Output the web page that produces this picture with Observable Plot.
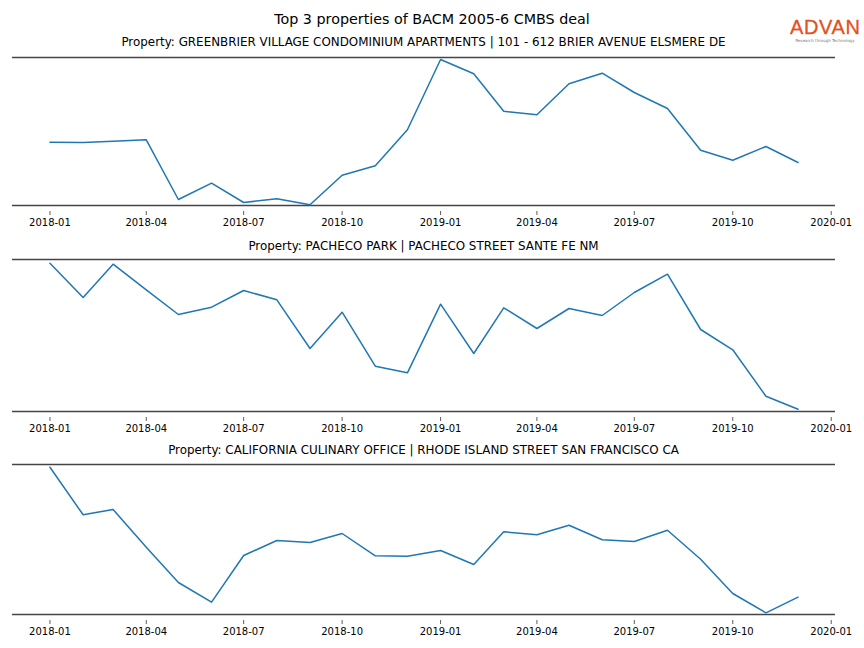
<!DOCTYPE html>
<html>
<head>
<meta charset="utf-8">
<script src="https://cdn.jsdelivr.net/npm/d3@7"></script>
<script src="https://cdn.jsdelivr.net/npm/@observablehq/plot@0.6"></script>
<style>
  html, body { margin: 0; padding: 0; background: #fff; }
  #wrap { position: relative; width: 864px; height: 648px; font-family: "DejaVu Sans", sans-serif; color: #000; overflow: hidden; }
  .t { position: absolute; left: 0; width: 864px; text-align: center; white-space: nowrap; line-height: 1.2; }
  .pt { position: absolute; left: 12px; width: 823px; text-align: center; white-space: nowrap; line-height: 1.2; }
  .panel { position: absolute; left: 0; }
  #logo { position: absolute; left: 790px; top: 17px; width: 70px; text-align: center; }
  #logo .big { font-family: "Liberation Sans", "DejaVu Sans", sans-serif; font-size: 20px; letter-spacing: 0.6px; color: #e2501f; line-height: 20px; -webkit-text-stroke: 0.3px #e2501f; }
  #logo .small { font-size: 4px; color: #777; line-height: 5px; margin-top: 1px; }
</style>
</head>
<body>
<div id="wrap"></div>
<script>
// Monthly dates, 2018-01 .. 2019-12
const months = ["2018-01","2018-02","2018-03","2018-04","2018-05","2018-06","2018-07","2018-08","2018-09","2018-10","2018-11","2018-12",
                "2019-01","2019-02","2019-03","2019-04","2019-05","2019-06","2019-07","2019-08","2019-09","2019-10","2019-11","2019-12"];

// Series values (relative index; no y axis shown)
const greenbrier = [63.3, 63, 64.3, 65.7, 6, 22.3, 3, 6.7, 0.7, 30.3, 39.7, 75.7,
                    146, 131.7, 94.3, 90.7, 121.7, 132.3, 113, 97, 55.3, 45.3, 59, 43];
const pacheco    = [148.3, 114, 147.3, 121.7, 97, 104.3, 121, 111.7, 63, 99.3, 45.3, 38.7,
                    107.3, 58, 103.7, 83, 103, 96, 119, 137.3, 82, 61.7, 15.3, 2.3];
const california = [147.3, 99.7, 105, 67.3, 32, 12.3, 59, 74, 72, 81, 58.7, 58.3,
                    64, 50, 82.7, 79.7, 89.3, 74.7, 73, 84.3, 55.3, 21, 1.7, 17.3];

const yDomains = [[0, 148], [0, 152], [0, 150]];

// Tick labels
const tickLabels = ["2018-01","2018-04","2018-07","2018-10","2019-01","2019-04","2019-07","2019-10","2020-01"];

const suptitle = "Top 3 properties of BACM 2005-6 CMBS deal";
const panelTitles = [
  "Property: GREENBRIER VILLAGE CONDOMINIUM APARTMENTS | 101 - 612 BRIER AVENUE ELSMERE DE",
  "Property: PACHECO PARK | PACHECO STREET SANTE FE NM",
  "Property: CALIFORNIA CULINARY OFFICE | RHODE ISLAND STREET SAN FRANCISCO CA"
];
const seriesList = [greenbrier, pacheco, california];

const parse = d3.utcParse("%Y-%m");
const ticks = tickLabels.map(parse);
const xDomain = [new Date(Date.UTC(2017, 10, 27)), new Date(Date.UTC(2020, 0, 5))];

const wrap = document.getElementById("wrap");

function addText(cls, text, top, size) {
  const d = document.createElement("div");
  d.className = cls;
  d.textContent = text;
  d.style.top = top + "px";
  d.style.fontSize = size + "px";
  wrap.appendChild(d);
}

addText("t", suptitle, 11, 14.3);

const layout = [
  {titleTop: 35, svgTop: 52, plotH: 148},
  {titleTop: 239, svgTop: 254, plotH: 152},
  {titleTop: 443, svgTop: 459, plotH: 150}
];

seriesList.forEach((vals, i) => {
  const L = layout[i];
  addText("pt", panelTitles[i], L.titleTop, 11.9);
  const data = months.map((m, k) => ({date: parse(m), value: vals[k]}));
  const marginTop = 5, inset = 6, marginBottom = 24;
  const height = marginTop + L.plotH + inset + marginBottom;
  const chart = Plot.plot({
    width: 864,
    height,
    marginTop,
    marginBottom,
    marginLeft: 12,
    marginRight: 29,
    style: {fontFamily: "DejaVu Sans, sans-serif", fontSize: "10px", color: "#000", background: "transparent"},
    x: {type: "utc", domain: xDomain},
    y: {domain: yDomains[i], insetBottom: inset, axis: null},
    marks: [
      Plot.ruleY(yDomains[i], {stroke: "#444", strokeWidth: 1.6}),
      Plot.lineY(data, {x: "date", y: "value", stroke: "#1f77b4", strokeWidth: 1.5}),
      Plot.axisX({ticks, tickFormat: d3.utcFormat("%Y-%m"), tickSize: 4, tickPadding: 3.5, stroke: "#333", strokeWidth: 0.8, label: null, fontSize: 10})
    ]
  });
  chart.classList.add("panel");
  chart.style.top = L.svgTop + "px";
  wrap.appendChild(chart);
});

// Logo
const logo = document.createElement("div");
logo.id = "logo";
logo.innerHTML = '<div class="big">ADVAN</div><div class="small">Research through Technology</div>';
wrap.appendChild(logo);
</script>
</body>
</html>
